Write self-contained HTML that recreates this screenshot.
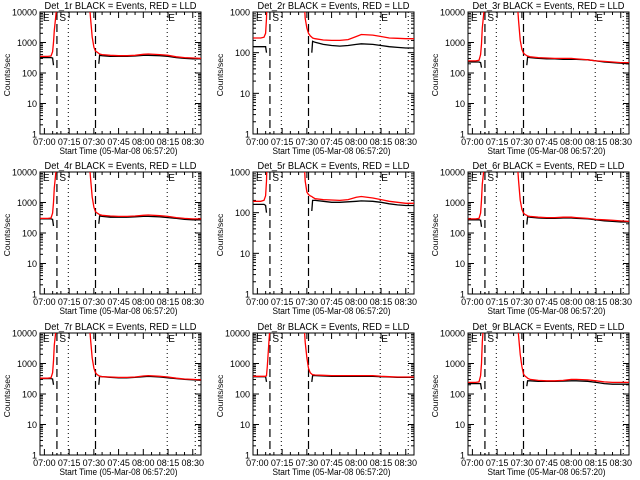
<!DOCTYPE html>
<html><head><meta charset="utf-8"><style>
html,body{margin:0;padding:0;background:#fff;}
svg{display:block;font-family:"Liberation Sans",sans-serif;}
</style></head><body>
<svg id="chart" width="640" height="480" viewBox="0 0 640 480" xmlns="http://www.w3.org/2000/svg"></svg>
<script>
// minutes since 07:00
const times = [-2.6,2,4,5,5.5,6,7,8,9,10,27,28,29,30,31,32,33,33.5,35,40,45,50,55,60,63,70,75,80,85,90,95];
const N = null;
const detNames = ["Det_1r","Det_2r","Det_3r","Det_4r","Det_5r","Det_6r","Det_7r","Det_8r","Det_9r"];
const yTops = [10000,1000,10000,10000,1000,10000,10000,10000,10000];
const red1=[350,350,360,500,1000,2500,8000,30000,30000,30000,30000,6000,1500,700,520,480,440,420,400,380,370,370,380,410,420,400,380,340,320,310,300];
const blk1=[320,320,320,310,180,N,N,N,N,N,N,N,N,N,N,N,200,380,370,350,350,350,360,380,380,370,350,320,300,290,290];
const red2=[230,230,240,300,700,3000,30000,30000,30000,30000,30000,3000,700,400,300,260,240,230,220,205,200,200,210,250,280,270,250,230,225,220,220];
const blk2=[140,140,140,140,100,N,N,N,N,N,N,N,N,N,N,N,100,190,180,160,150,145,150,160,165,160,150,140,135,130,130];
const red3=[250,250,260,400,900,3000,10000,30000,30000,30000,30000,5000,1200,600,450,400,370,360,340,320,310,300,300,300,290,270,250,240,230,220,220];
const blk3=[230,230,230,220,150,N,N,N,N,N,N,N,N,N,N,N,180,330,320,300,290,290,280,280,280,270,250,230,220,210,200];
const red4=[300,300,310,450,1000,3000,10000,30000,30000,30000,30000,6000,1500,700,500,450,420,400,380,360,350,350,360,380,390,370,350,320,300,290,290];
const blk4=[290,290,290,280,170,N,N,N,N,N,N,N,N,N,N,N,200,360,350,330,330,330,340,350,350,340,320,300,280,270,270];
const red5=[190,190,200,260,600,3000,30000,30000,30000,30000,30000,3000,600,320,280,260,250,240,220,210,205,200,210,240,250,230,210,190,180,170,170];
const blk5=[160,160,160,150,100,N,N,N,N,N,N,N,N,N,N,N,110,200,200,190,180,180,185,190,195,190,180,165,155,150,150];
const red6=[290,290,300,450,1200,4000,12000,30000,30000,30000,30000,5000,1200,600,450,400,380,360,350,330,320,320,330,330,320,300,280,270,260,250,240];
const blk6=[270,270,270,260,160,N,N,N,N,N,N,N,N,N,N,N,190,340,330,310,300,300,310,310,300,290,270,250,240,230,230];
const red7=[330,330,340,500,1200,4000,12000,30000,30000,30000,30000,6000,1500,700,500,430,400,380,370,360,350,350,360,390,400,380,360,330,310,300,290];
const blk7=[320,320,320,310,200,N,N,N,N,N,N,N,N,N,N,N,200,380,370,350,340,340,350,370,380,360,340,320,300,290,280];
const red8=[380,380,380,380,400,800,5000,30000,30000,30000,30000,30000,5000,1500,700,500,450,430,420,410,400,400,400,400,400,400,380,370,360,360,360];
const blk8=[370,370,370,370,250,N,N,N,N,N,N,N,N,N,N,N,250,400,400,390,380,380,380,380,380,380,370,360,350,350,350];
const red9=[240,240,250,400,1000,5000,30000,30000,30000,30000,30000,8000,2000,800,450,380,350,330,300,280,270,270,280,300,300,290,270,250,240,240,240];
const blk9=[220,220,220,220,140,N,N,N,N,N,N,N,N,N,N,N,180,270,270,260,260,260,265,270,270,260,240,220,210,210,210];
const redSeries=[red1,red2,red3,red4,red5,red6,red7,red8,red9];
const blkSeries=[blk1,blk2,blk3,blk4,blk5,blk6,blk7,blk8,blk9];
const xTickVals=[0,15,30,45,60,75,90];
const xTickLabels=["07:00","07:15","07:30","07:45","08:00","08:15","08:30"];
const dashedTimes=[7.6,31];
const dottedTimes=[14.5,74.5,91.5];

const NS="http://www.w3.org/2000/svg";
const svg=document.getElementById('chart');
function mk(tag,attrs,parent){const e=document.createElementNS(NS,tag);for(const k in attrs)e.setAttribute(k,attrs[k]);(parent||svg).appendChild(e);return e;}
const lefts=[40,253,468], tops=[12,172,333], W=161, H=122;
const tMin=-2.67, tMax=95.0;

for(let p=0;p<9;p++){
  const L=lefts[p%3], T=tops[Math.floor(p/3)];
  const g=mk('g',{});
  
  
  const top=yTops[p], decs=Math.log10(top);
  const X=t=>L+(t-tMin)/(tMax-tMin)*W;
  const Y=v=>T+H-Math.log10(v)/decs*H;
  const cid='clip'+p;
  const cp=mk('clipPath',{id:cid},g); mk('rect',{x:L,y:T,width:W,height:H},cp);
  // title
  const tt=mk('text',{x:L+W/2,y:T-3,'text-anchor':'middle','font-size':10.5,textLength:152,lengthAdjust:'spacingAndGlyphs'},g);
  tt.textContent=detNames[p]+" BLACK = Events, RED = LLD";
  
  
  // frame
  const fr=mk('rect',{x:L,y:T,width:W,height:H,fill:'none',stroke:'#000','stroke-width':1},g);
  
  
  // y ticks
  for(let d=0;d<=decs;d++){
    const v=Math.pow(10,d), y=Y(v);
    mk('line',{x1:L,x2:L+6,y1:y,y2:y,stroke:'#000'},g);
    mk('line',{x1:L+W-6,x2:L+W,y1:y,y2:y,stroke:'#000'},g);
    const lb=mk('text',{x:L-3,y:y+3.5,'text-anchor':'end','font-size':9},g);
    lb.textContent=String(v);
    
    
    if(d<decs){for(let m=2;m<10;m++){const ym=Y(v*m);
      mk('line',{x1:L,x2:L+3,y1:ym,y2:ym,stroke:'#000'},g);
      mk('line',{x1:L+W-3,x2:L+W,y1:ym,y2:ym,stroke:'#000'},g);}}
  }
  // x ticks
  for(let i=0;i<xTickVals.length;i++){
    const x=X(xTickVals[i]);
    mk('line',{x1:x,x2:x,y1:T+H,y2:T+H-6,stroke:'#000'},g);
    mk('line',{x1:x,x2:x,y1:T,y2:T+6,stroke:'#000'},g);
    for(const m of [5,10]){const xm=X(xTickVals[i]+m); if(xm<L+W){
      mk('line',{x1:xm,x2:xm,y1:T+H,y2:T+H-3,stroke:'#000'},g);
      mk('line',{x1:xm,x2:xm,y1:T,y2:T+3,stroke:'#000'},g);}}
    const lb=mk('text',{x:x,y:T+H+11,'text-anchor':'middle','font-size':9},g);
    lb.textContent=xTickLabels[i];
    
    
  }
  const xt=mk('text',{x:L+W/2-2,y:T+H+20,'text-anchor':'middle','font-size':9.5,textLength:118,lengthAdjust:'spacingAndGlyphs'},g);
  xt.textContent="Start Time (05-Mar-08 06:57:20)";
  
  
  const yx=L-30, yc=T+H/2+2;
  const yt=mk('text',{x:yx,y:yc,'text-anchor':'middle','font-size':8.5,transform:`rotate(-90 ${yx} ${yc})`},g);
  yt.textContent="Counts/sec";
  
  
  // vertical markers
  for(const t of dashedTimes){const x=X(t);
    const l=mk('line',{x1:x,x2:x,y1:T,y2:T+H,stroke:'#000','stroke-width':1.2,'stroke-dasharray':'8,4'},g);
    
    }
  for(const t of dottedTimes){const x=X(t);
    const l=mk('line',{x1:x,x2:x,y1:T,y2:T+H,stroke:'#000','stroke-dasharray':'1,3'},g);
    
    }
  // flags
  const fl=[['E',-1.5],['S',8.5],['E',74.5]];
  for(const [s,t] of fl){const f=mk('text',{x:X(t)+1,y:T+9,'font-size':10},g);f.textContent=s;
    
    }
  // series
  const cg=mk('g',{'clip-path':`url(#${cid})`},g);
  function path(arr,color,name){
    let d='',pen=false;
    for(let i=0;i<times.length;i++){
      const v=arr[i];
      if(v===null){pen=false;continue;}
      d+=(pen?'L':'M')+X(times[i]).toFixed(1)+','+Y(v).toFixed(1);pen=true;
    }
    const pe=mk('path',{d:d,fill:'none',stroke:color,'stroke-width':1.3},cg);
    
    
  }
  path(blkSeries[p],'#000','events-line');
  path(redSeries[p],'#ff0000','lld-line');
}
</script>
</body></html>
